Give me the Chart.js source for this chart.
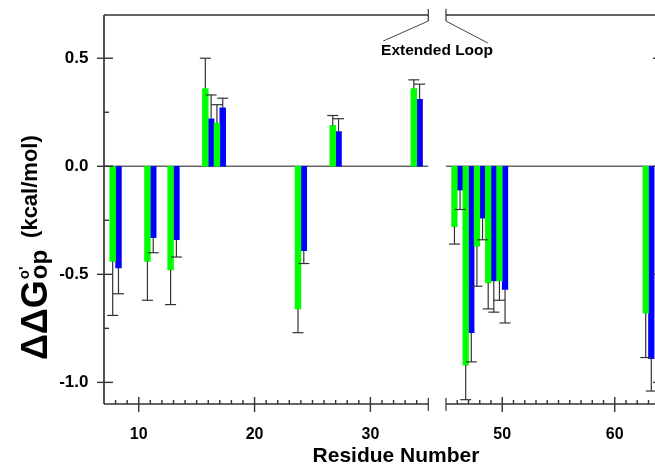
<!DOCTYPE html>
<html>
<head>
<meta charset="utf-8">
<script src="https://cdn.jsdelivr.net/npm/chart.js@4.4.1/dist/chart.umd.min.js"></script>
<style>
  html, body { margin: 0; padding: 0; background: #fff; overflow: hidden; }
  #wrap { position: relative; width: 655px; height: 466px; overflow: hidden; }
  #chartLeft { position: absolute; left: 0; top: 0; }
  #chartRight { position: absolute; left: 436px; top: 0; }
</style>
</head>
<body>
<div id="wrap">
  <canvas id="chartLeft" width="655" height="466"></canvas>
  <canvas id="chartRight" width="234" height="466"></canvas>
</div>
<script>
// residue numbers and the two series
const residues    = [8, 11, 13, 16, 17, 24, 27, 34, 46, 47, 48, 49, 50, 63];
const greenValues = [-0.44, -0.44, -0.48, 0.36, 0.20, -0.66, 0.19, 0.36, -0.28, -0.92, -0.37, -0.54, -0.53, -0.68];
const blueValues  = [-0.47, -0.33, -0.34, 0.22, 0.27, -0.39, 0.16, 0.31, -0.11, -0.77, -0.24, -0.53, -0.57, -0.89];
const greenErrors = [0.25, 0.18, 0.16, 0.14, 0.085, 0.11, 0.045, 0.04, 0.08, 0.16, 0.185, 0.12, 0.09, 0.205];
const blueErrors  = [0.12, 0.07, 0.08, 0.11, 0.045, 0.06, 0.06, 0.07, 0.09, 0.135, 0.10, 0.145, 0.155, 0.15];

// tick labels
const yTickLabels = [0.5, 0.0, -0.5, -1.0];
const xTickLabels = [10, 20, 30, 50, 60];

// the two pieces of the broken x axis
const leftRange  = [7, 35];
const rightRange = [45, 64.2];
const yRange     = [-1.1, 0.7];

const FONT = '"Liberation Sans", Arial, sans-serif';
Chart.defaults.font.family = FONT;
Chart.defaults.color = '#000';

const points = (values, errors, range) =>
    residues.map((r, i) => ({ x: r, y: values[i], err: errors[i] }))
            .filter(p => p.x >= range[0] && p.x <= range[1]);

const line = (ctx, x1, y1, x2, y2) => {
    ctx.beginPath();
    ctx.moveTo(x1, y1);
    ctx.lineTo(x2, y2);
    ctx.stroke();
};

// zero line, error bars, frame and ticks
const decor = (side) => ({
    id: 'decor',
    beforeDatasetsDraw(chart) {
        const { ctx, chartArea: a, scales: { y } } = chart;
        ctx.save();
        ctx.strokeStyle = '#666';
        ctx.lineWidth = 1.5;
        const y0 = y.getPixelForValue(0);
        line(ctx, a.left, y0, a.right, y0);
        ctx.restore();
    },
    afterDatasetsDraw(chart) {
        const { ctx, scales: { y } } = chart;
        ctx.save();
        ctx.strokeStyle = '#333';
        ctx.lineWidth = 1.2;
        chart.data.datasets.forEach((ds, di) => {
            chart.getDatasetMeta(di).data.forEach((bar, i) => {
                const p = ds.data[i];
                const ye = y.getPixelForValue(p.y + Math.sign(p.y) * p.err);
                line(ctx, bar.x, bar.y, bar.x, ye);
                line(ctx, bar.x - 5.5, ye, bar.x + 5.5, ye);
            });
        });
        ctx.restore();
    },
    afterDraw(chart) {
        const { ctx, chartArea: a, scales: { x, y } } = chart;
        ctx.save();
        ctx.strokeStyle = '#333';
        ctx.lineWidth = 1.7;
        line(ctx, a.left, a.top, a.right, a.top);
        line(ctx, a.left, a.bottom, a.right, a.bottom);

        const edge = side === 'left' ? a.left : a.right;
        const brk = side === 'left' ? a.right : a.left;
        line(ctx, edge, a.top, edge, a.bottom);
        // break marks
        ctx.lineWidth = 1.2;
        line(ctx, brk, a.top - 6, brk, a.top + 6);
        line(ctx, brk, a.bottom - 6, brk, a.bottom + 7);

        ctx.lineWidth = 1.4;
        const dir = side === 'left' ? 1 : -1;
        y.ticks.forEach(t => {
            const py = y.getPixelForValue(t.value);
            if (yTickLabels.includes(t.value)) line(ctx, edge - 7 * dir, py, edge + 9 * dir, py);
            else line(ctx, edge, py, edge + 5 * dir, py);
        });
        x.ticks.forEach(t => {
            if (t.value <= x.min || t.value >= x.max) return;
            const px = x.getPixelForValue(t.value);
            if (xTickLabels.includes(t.value)) line(ctx, px, a.bottom - 7, px, a.bottom + 8);
            else line(ctx, px, a.bottom - 4, px, a.bottom);
        });

        if (side === 'left') {
            const rb = a.right + 17.5;
            ctx.strokeStyle = '#444';
            ctx.lineWidth = 1;
            line(ctx, a.right, a.top + 6, a.right - 45, a.top + 26);
            line(ctx, rb, a.top + 6, rb + 42, a.top + 28);
            ctx.fillStyle = '#000';
            ctx.textAlign = 'center';
            ctx.textBaseline = 'alphabetic';
            ctx.font = 'bold 15.5px ' + FONT;
            ctx.fillText('Extended Loop', (a.right + rb) / 2, a.top + 40);

            ctx.font = 'bold 21px ' + FONT;
            ctx.fillText('Residue Number', 396, 462);

            // y title with super/subscripts
            ctx.translate(47, 360);
            ctx.rotate(-Math.PI / 2);
            ctx.textAlign = 'left';
            ctx.font = 'bold 36px ' + FONT;
            ctx.fillText('ΔΔG', 0, 0);
            let u = ctx.measureText('ΔΔG').width + 1;
            ctx.font = 'bold 15px ' + FONT;
            ctx.fillText("o'", u, -18);
            ctx.font = 'bold 24px ' + FONT;
            ctx.fillText('op', u, 0);
            u += ctx.measureText('op').width + 12;
            ctx.font = 'bold 22px ' + FONT;
            ctx.fillText('(kcal/mol)', u, -10);
        }
        ctx.restore();
    }
});

const makeChart = (canvasId, side, range, padding) => new Chart(document.getElementById(canvasId), {
    type: 'bar',
    data: {
        datasets: [
            { data: points(greenValues, greenErrors, range), backgroundColor: '#00ff00', borderWidth: 0, barThickness: side === 'left' ? 5.8 : 5.6 },
            { data: points(blueValues, blueErrors, range), backgroundColor: '#0000ff', borderWidth: 0, barThickness: side === 'left' ? 5.8 : 5.6 }
        ]
    },
    options: {
        responsive: false,
        animation: false,
        events: [],
        layout: { padding },
        plugins: { legend: { display: false }, tooltip: { enabled: false } },
        scales: {
            x: {
                type: 'linear',
                min: range[0],
                max: range[1],
                offset: false,
                grid: { display: false, offset: false, drawTicks: false, tickLength: 0 },
                border: { display: false },
                ticks: {
                    stepSize: 1,
                    includeBounds: false,
                    autoSkip: false,
                    maxRotation: 0,
                    padding: 21,
                    font: { size: 16, weight: 'bold' },
                    callback: v => xTickLabels.includes(v) ? String(v) : ''
                },
                afterFit: s => { s.height = 62; s.paddingLeft = 0; s.paddingRight = 0; }
            },
            y: {
                min: yRange[0],
                max: yRange[1],
                grid: { display: false, drawTicks: false, tickLength: 0 },
                border: { display: false },
                ticks: {
                    display: side === 'left',
                    stepSize: 0.25,
                    includeBounds: false,
                    autoSkip: false,
                    padding: 15.5,
                    font: { size: 17, weight: 'bold' },
                    callback: v => yTickLabels.includes(v) ? v.toFixed(1) : ''
                },
                afterFit: s => { s.width = side === 'left' ? 104 : 0; s.paddingTop = 0; s.paddingBottom = 0; }
            }
        }
    },
    plugins: [decor(side)]
});

makeChart('chartLeft', 'left', leftRange, { left: 0, top: 15, right: 226.7, bottom: 0 });
makeChart('chartRight', 'right', rightRange, { left: 10, top: 15, right: 8, bottom: 0 });
</script>
</body>
</html>
